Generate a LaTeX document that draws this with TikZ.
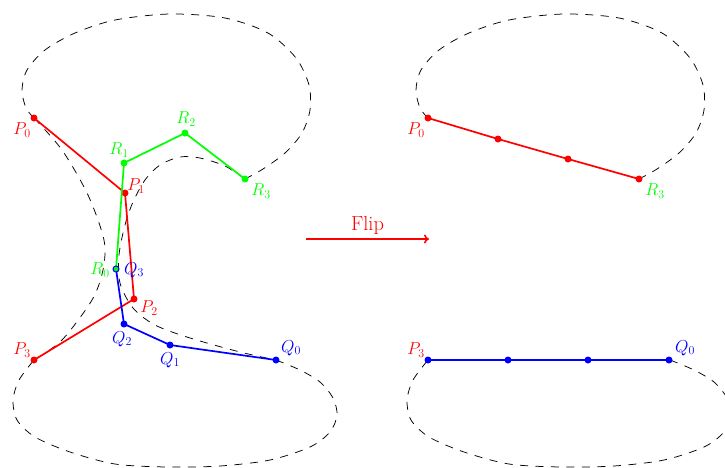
\documentclass[tikz,border=0pt]{standalone}
\usetikzlibrary{arrows.meta}
\definecolor{pred}{RGB}{255,0,0}
\definecolor{rgreen}{RGB}{0,255,0}
\definecolor{qblue}{RGB}{0,0,255}
\begin{document}
\begin{tikzpicture}[x=1pt,y=-1pt,
  dot/.style={circle,fill,inner sep=0pt,minimum size=7pt},
  lab/.style={font=\fontsize{17}{20}\selectfont, inner sep=0pt},
  curve/.style={dash pattern=on 8pt off 7.5pt, line width=0.75pt},
  seg/.style={line width=1.7pt, line join=round},
  junction/.style={circle,fill=rgreen,draw=qblue,line width=1pt,inner sep=0pt,minimum size=6pt}]
\useasboundingbox (0,0) rectangle (725,467);

% ---------- left figure: dashed boundary ----------
\draw[curve] plot[smooth] coordinates {(34,118) (26,108) (22,90) (27,70) (45,50) (75,33) (115,20) (170,14) (225,18) (268,33) (296,58) (309,85) (310,110) (302,133) (285,153) (263,169) (245,179)};
\draw[curve] plot[smooth] coordinates {(245,179) (225,166) (200,158) (180,157) (160,165) (145,180) (133,202) (125,225) (119,255) (120,283) (133,308) (155,325) (190,338) (240,352) (276,360)};
\draw[curve] plot[smooth] coordinates {(34,118) (62,150) (88,195) (104,240) (103,270) (92,300) (62,340) (34,360)};
\draw[curve] plot[smooth] coordinates {(276,360) (300,370) (320,382) (333,398) (337,415) (330,432) (310,447) (270,460) (220,466) (167,467) (115,464) (70,452) (35,437) (17,420) (13,400) (18,382) (26,370) (34,360)};

% ---------- left figure: points ----------
\node[dot,pred] (P0) at (34,118) {};
\node[dot,pred] (P1) at (125,193) {};
\node[dot,pred] (P2) at (134,299) {};
\node[dot,pred] (P3) at (34,360) {};
\node[dot,rgreen] (R1) at (124,163) {};
\node[dot,rgreen] (R2) at (185,133) {};
\node[dot,rgreen] (R3) at (245,179) {};
\node[dot,qblue] (Q0) at (276,360) {};
\node[dot,qblue] (Q1) at (170,345) {};
\node[dot,qblue] (Q2) at (124,324) {};
\coordinate (R0) at (116,269);
\coordinate (Q3) at (116,269);

\draw[seg,pred] (P0.center) -- (P1.center) -- (P2.center) -- (P3.center);
\draw[seg,rgreen] (R0) -- (R1.center) -- (R2.center) -- (R3.center);
\draw[seg,qblue] (Q3) -- (Q2.center) -- (Q1.center) -- (Q0.center);
\node[junction] (J) at (R0) {};

\node[lab,pred] (lP0) at (22,130) {$P_0$};
\node[lab,pred] (lP1) at (136,186) {$P_1$};
\node[lab,pred] (lP2) at (149,308) {$P_2$};
\node[lab,pred] (lP3) at (22,350) {$P_3$};
\node[lab,rgreen] (lR0) at (100,270) {$R_0$};
\node[lab,rgreen] (lR1) at (119,150) {$R_1$};
\node[lab,rgreen] (lR2) at (186,119) {$R_2$};
\node[lab,rgreen] (lR3) at (261,191) {$R_3$};
\node[lab,qblue] (lQ0) at (291,348) {$Q_0$};
\node[lab,qblue] (lQ1) at (170,360) {$Q_1$};
\node[lab,qblue] (lQ2) at (122,339) {$Q_2$};
\node[lab,qblue] (lQ3) at (134,270) {$Q_3$};

% ---------- arrow ----------
\coordinate (fa) at (306,239);
\coordinate (fb) at (429,239);
\draw[pred, line width=1.6pt, -{To[length=5pt,width=9pt]}] (fa) -- (fb)
  node[midway, above=4pt, font=\fontsize{20.4}{24}\selectfont, inner sep=0pt] (flip) {Flip};

% ---------- right figure ----------
\begin{scope}[xshift=394pt]
\draw[curve] plot[smooth] coordinates {(34,118) (26,108) (22,90) (27,70) (45,50) (75,33) (115,20) (170,14) (225,18) (268,33) (296,58) (309,85) (310,110) (302,133) (285,153) (263,169) (245,179)};
\draw[curve] plot[smooth] coordinates {(276,360) (300,370) (320,382) (333,398) (337,415) (330,432) (310,447) (270,460) (220,466) (167,467) (115,464) (70,452) (35,437) (17,420) (13,400) (18,382) (26,370) (34,360)};
\node[dot,pred] (A0) at (34,118) {};
\node[dot,pred] (A1) at (104,139) {};
\node[dot,pred] (A2) at (174,159) {};
\node[dot,pred] (A3) at (245,179) {};
\draw[seg,pred] (A0.center) -- (A1.center) -- (A2.center) -- (A3.center);
\node[dot,qblue] (B0) at (34,360) {};
\node[dot,qblue] (B1) at (114,360) {};
\node[dot,qblue] (B2) at (194,360) {};
\node[dot,qblue] (B3) at (275,360) {};
\draw[seg,qblue] (B0.center) -- (B1.center) -- (B2.center) -- (B3.center);
\node[lab,pred] (lA0) at (22,130) {$P_0$};
\node[lab,rgreen] (lA3) at (261,191) {$R_3$};
\node[lab,pred] (lB0) at (22,350) {$P_3$};
\node[lab,qblue] (lB3) at (291,348) {$Q_0$};
\end{scope}
\end{tikzpicture}
\end{document}
